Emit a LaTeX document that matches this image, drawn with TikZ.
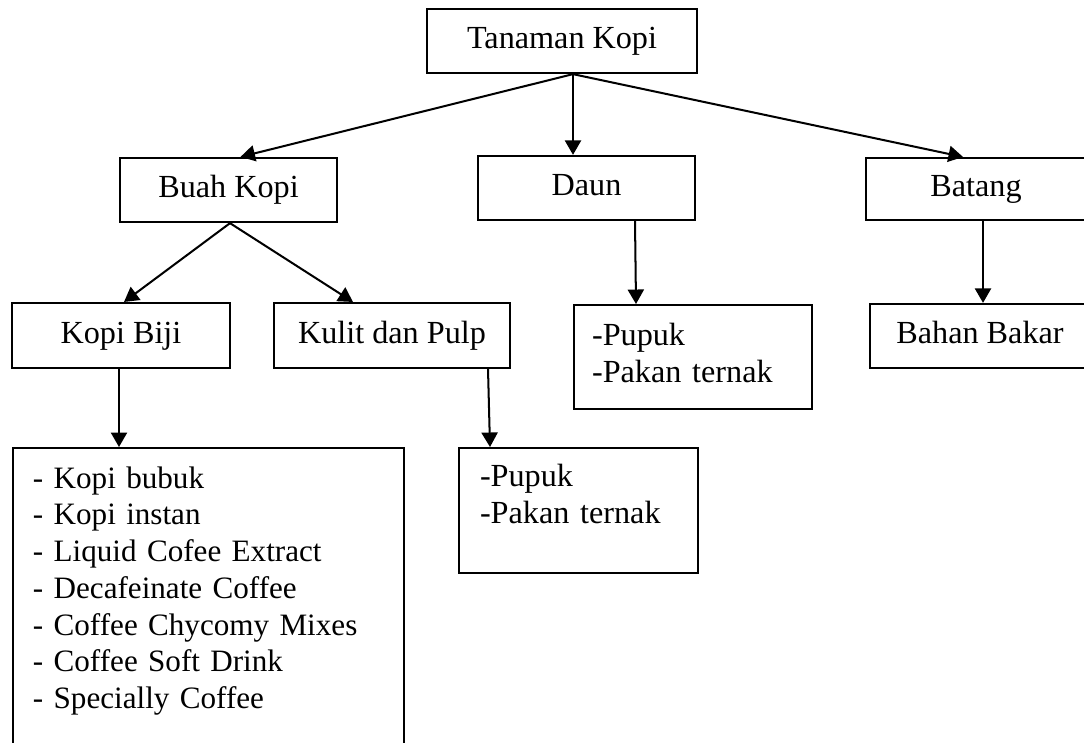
\documentclass[tikz,border=0pt]{standalone}
\usepackage{fontspec}
\setmainfont{Liberation Serif}
\usetikzlibrary{
    arrows.meta,
    calc
}

\begin{document}
\begin{tikzpicture}[x=0.3727pt,y=-0.3727pt,
    font=\fontsize{12pt}{13.8pt}\selectfont,
    box/.style={draw,line width=0.8pt,inner sep=0pt,text height=8.2pt,text depth=2.6pt},
    listbox/.style={draw,line width=0.8pt,align=left,anchor=north west,inner ysep=0pt},
    arr/.style={-{Triangle[length=5.4pt,width=6pt]},line width=0.75pt}]

\useasboundingbox (0,0) rectangle (1084,742);

% Top
\node[box,minimum width=100.6pt,minimum height=23.9pt] (tanaman) at (562,41) {Tanaman Kopi};

% Parts of the plant
\node[box,minimum width=80.9pt,minimum height=23.9pt] (buah) at (228.5,190) {Buah Kopi};
\node[box,minimum width=80.9pt,minimum height=23.9pt] (daun) at (586.5,188) {Daun};
\node[box,minimum width=82pt,minimum height=23.1pt] (batang) at (976,189) {Batang};

% Third row
\node[box,minimum width=81.2pt,minimum height=24.2pt] (kopibiji) at (121,335.5) {Kopi Biji};
\node[box,minimum width=88pt,minimum height=24.2pt] (kulit) at (392,335.5) {Kulit dan Pulp};
\node[listbox,inner xsep=6.7pt,text width=75.3pt,text height=14.9pt,text depth=23.9pt] (daunlist) at (573,304) {-Pupuk\\-Pakan ternak};
\node[box,minimum width=82pt,minimum height=23.9pt] (bahan) at (980,336) {Bahan Bakar};

% Products
\node[listbox,font=\fontsize{11.6pt}{13.7pt}\selectfont,inner xsep=7.4pt,text width=130.9pt,text height=14.9pt,text depth=104.4pt] (kopilist) at (12,447) {- Kopi bubuk\\- Kopi instan\\- Liquid Cofee Extract\\- Decafeinate Coffee\\- Coffee Chycomy Mixes\\- Coffee Soft Drink\\- Specially Coffee};
\node[listbox,inner xsep=7.8pt,text width=73.4pt,text height=14.2pt,text depth=32.4pt] (kulitlist) at (458,447) {-Pupuk\\-Pakan ternak};

% Arrows
\draw[arr] ($(tanaman.south)+(11,0)$) -- ($(buah.north)+(12,0)$);
\draw[arr] ($(tanaman.south)+(11,0)$) -- ($(daun.north)+(-13.5,0)$);
\draw[arr] ($(tanaman.south)+(11,0)$) -- ($(batang.north)+(-13,0)$);
\draw[arr] ($(buah.south)+(1.5,0)$) -- ($(kopibiji.north)+(3,0)$);
\draw[arr] ($(buah.south)+(1.5,0)$) -- ($(kulit.north)+(-39,0)$);
\draw[arr] ($(daun.south)+(48.5,0)$) -- ($(daunlist.north west)+(63,0)$);
\draw[arr] ($(batang.south)+(7,0)$) -- ($(bahan.north)+(3,0)$);
\draw[arr] ($(kopibiji.south)+(-2,0)$) -- ($(kopilist.north west)+(107,0)$);
\draw[arr] ($(kulit.south)+(96,0)$) -- ($(kulitlist.north west)+(32,0)$);

\end{tikzpicture}
\end{document}
